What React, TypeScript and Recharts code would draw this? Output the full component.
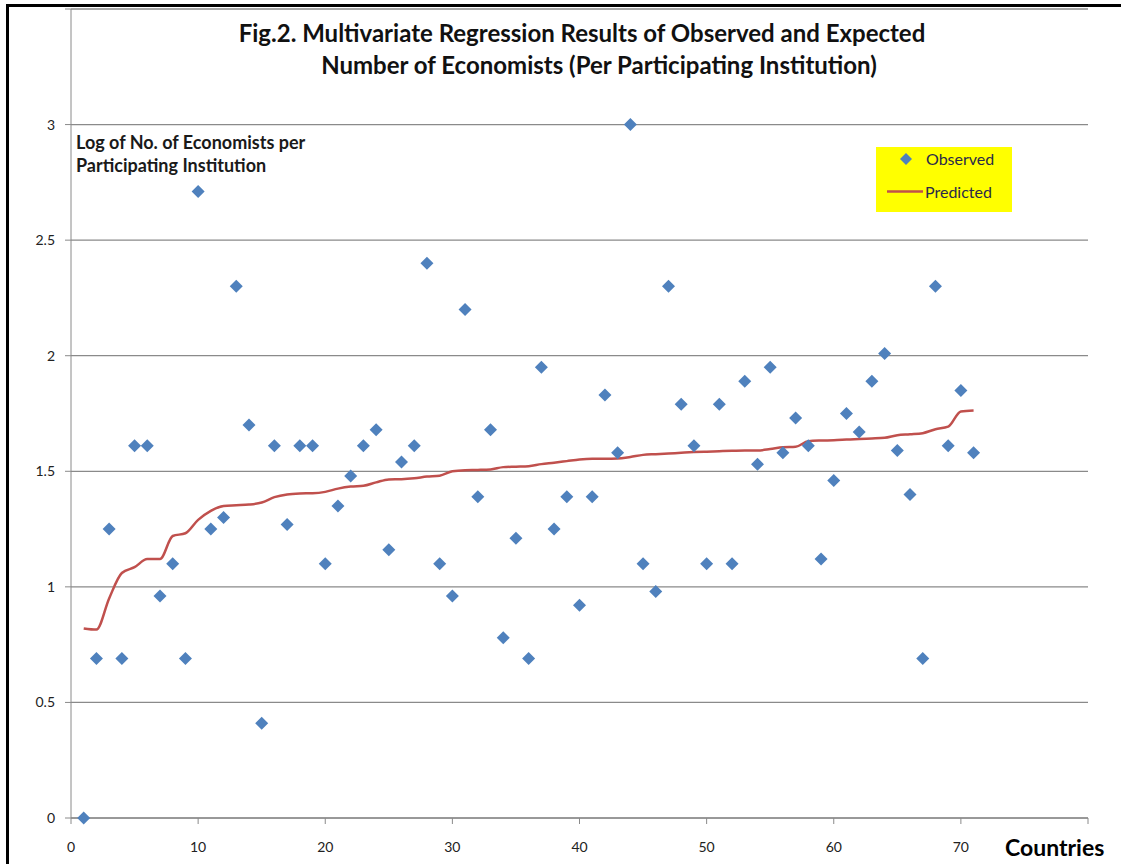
import {
  ComposedChart,
  CartesianGrid,
  XAxis,
  YAxis,
  Scatter,
  Line,
} from "recharts";

const countries = Array.from({ length: 71 }, (_, i) => i + 1);

const observed = [
  0, 0.69, 1.25, 0.69, 1.61, 1.61, 0.96, 1.1, 0.69, 2.71,
  1.25, 1.3, 2.3, 1.7, 0.41, 1.61, 1.27, 1.61, 1.61, 1.1,
  1.35, 1.48, 1.61, 1.68, 1.16, 1.54, 1.61, 2.4, 1.1, 0.96,
  2.2, 1.39, 1.68, 0.78, 1.21, 0.69, 1.95, 1.25, 1.39, 0.92,
  1.39, 1.83, 1.58, 3.0, 1.1, 0.98, 2.3, 1.79, 1.61, 1.1,
  1.79, 1.1, 1.89, 1.53, 1.95, 1.58, 1.73, 1.61, 1.12, 1.46,
  1.75, 1.67, 1.89, 2.01, 1.59, 1.4, 0.69, 2.3, 1.61, 1.85,
  1.58,
];

const predicted = [
  0.82, 0.815, 0.95, 1.06, 1.085, 1.12, 1.12, 1.22, 1.232, 1.29,
  1.329, 1.35, 1.353, 1.356, 1.365, 1.388, 1.4, 1.404, 1.405, 1.411,
  1.425, 1.434, 1.437, 1.452, 1.465, 1.466, 1.47, 1.477, 1.481, 1.5,
  1.505, 1.506, 1.508, 1.518, 1.52, 1.522, 1.531, 1.537, 1.544, 1.551,
  1.554, 1.554, 1.555, 1.562, 1.571, 1.574, 1.577, 1.58, 1.583, 1.585,
  1.587, 1.589, 1.59, 1.59, 1.596, 1.604, 1.606, 1.63, 1.633, 1.634,
  1.637, 1.64, 1.642, 1.645, 1.656, 1.66, 1.665, 1.682, 1.693, 1.759,
  1.763,
];

const xTicks = [0, 10, 20, 30, 40, 50, 60, 70, 80];
const yTicks = [0, 0.5, 1, 1.5, 2, 2.5, 3, 3.5];

const data = countries.map((x, i) => ({
  x,
  observed: observed[i],
  predicted: predicted[i],
}));

const FONT = "Lato, 'Open Sans', sans-serif";
const BLUE = "#4F81BD";
const RED = "#C0504D";

function Diamond(props: any) {
  const { cx, cy } = props;
  const r = 6.5;
  return (
    <polygon
      points={`${cx},${cy - r} ${cx + r},${cy} ${cx},${cy + r} ${cx - r},${cy}`}
      fill={BLUE}
    />
  );
}

function LegendBox() {
  return (
    <div
      style={{
        position: "absolute",
        left: 876,
        top: 147,
        background: "#FFFF00",
        width: 136,
        height: 65,
        fontFamily: FONT,
        fontSize: 16,
        color: "#2a2a4a",
      }}
    >
      <svg width={136} height={65} style={{ position: "absolute", left: 0, top: 0 }}>
        <polygon points="30,6 36,12 30,18 24,12" fill={BLUE} />
        <line x1={11} y1={44.5} x2={47} y2={44.5} stroke={RED} strokeWidth={2.5} />
      </svg>
      <div style={{ position: "absolute", left: 50, top: 2 }}>Observed</div>
      <div style={{ position: "absolute", left: 49, top: 35 }}>Predicted</div>
    </div>
  );
}

export default function App() {
  return (
    <div
      style={{
        position: "absolute",
        left: 0,
        top: 0,
        width: 1121,
        height: 864,
        background: "#fff",
        overflow: "hidden",
      }}
    >
      <div
        style={{
          position: "absolute",
          left: 6,
          top: 4,
          width: 1121,
          height: 870,
          borderLeft: "3px solid #000",
          borderTop: "3px solid #000",
        }}
      />
      <ComposedChart
        width={1121}
        height={864}
        data={data}
        margin={{ top: 9, right: 33, left: 0, bottom: 16 }}
        style={{ position: "absolute", left: 0, top: 0 }}
      >
        <CartesianGrid vertical={false} stroke="#8a8a8a" strokeWidth={1.3} />
        <XAxis
          dataKey="x"
          type="number"
          domain={[0, 80]}
          ticks={xTicks}
          tickFormatter={(v) => (v === 80 ? "" : String(v))}
          stroke="#8a8a8a"
          tickSize={6}
          tickMargin={18}
          height={30}
          tick={{ fill: "#222", fontSize: 14, fontFamily: FONT }}
        />
        <YAxis
          type="number"
          domain={[0, 3.5]}
          ticks={yTicks}
          tickFormatter={(v) => (v === 3.5 ? "" : String(v))}
          stroke="#8a8a8a"
          tickSize={6}
          tickMargin={10}
          width={71}
          tick={{ fill: "#222", fontSize: 14, fontFamily: FONT }}
        />
        <Line
          dataKey="predicted"
          type="monotone"
          stroke={RED}
          strokeWidth={2.5}
          dot={false}
          isAnimationActive={false}
        />
        <Scatter
          dataKey="observed"
          fill={BLUE}
          shape={Diamond}
          isAnimationActive={false}
        />
      </ComposedChart>
      <LegendBox />
      <div
        style={{
          position: "absolute",
          left: 0,
          width: 1164,
          top: 18,
          textAlign: "center",
          fontFamily: FONT,
          fontWeight: 700,
          fontSize: 24,
          color: "#111",
        }}
      >
        Fig.2. Multivariate Regression Results of Observed and Expected
      </div>
      <div
        style={{
          position: "absolute",
          left: 0,
          width: 1198,
          top: 50,
          textAlign: "center",
          fontFamily: FONT,
          fontWeight: 700,
          fontSize: 24,
          color: "#111",
        }}
      >
        Number of Economists (Per Participating Institution)
      </div>
      <div
        style={{
          position: "absolute",
          left: 76,
          top: 131,
          fontFamily: FONT,
          fontWeight: 700,
          fontSize: 18,
          lineHeight: "23px",
          color: "#1a1a1a",
        }}
      >
        Log of No. of Economists per
        <br />
        Participating Institution
      </div>
      <div
        style={{
          position: "absolute",
          left: 1005,
          top: 833,
          fontFamily: FONT,
          fontWeight: 700,
          fontSize: 23,
          color: "#000",
        }}
      >
        Countries
      </div>
    </div>
  );
}
